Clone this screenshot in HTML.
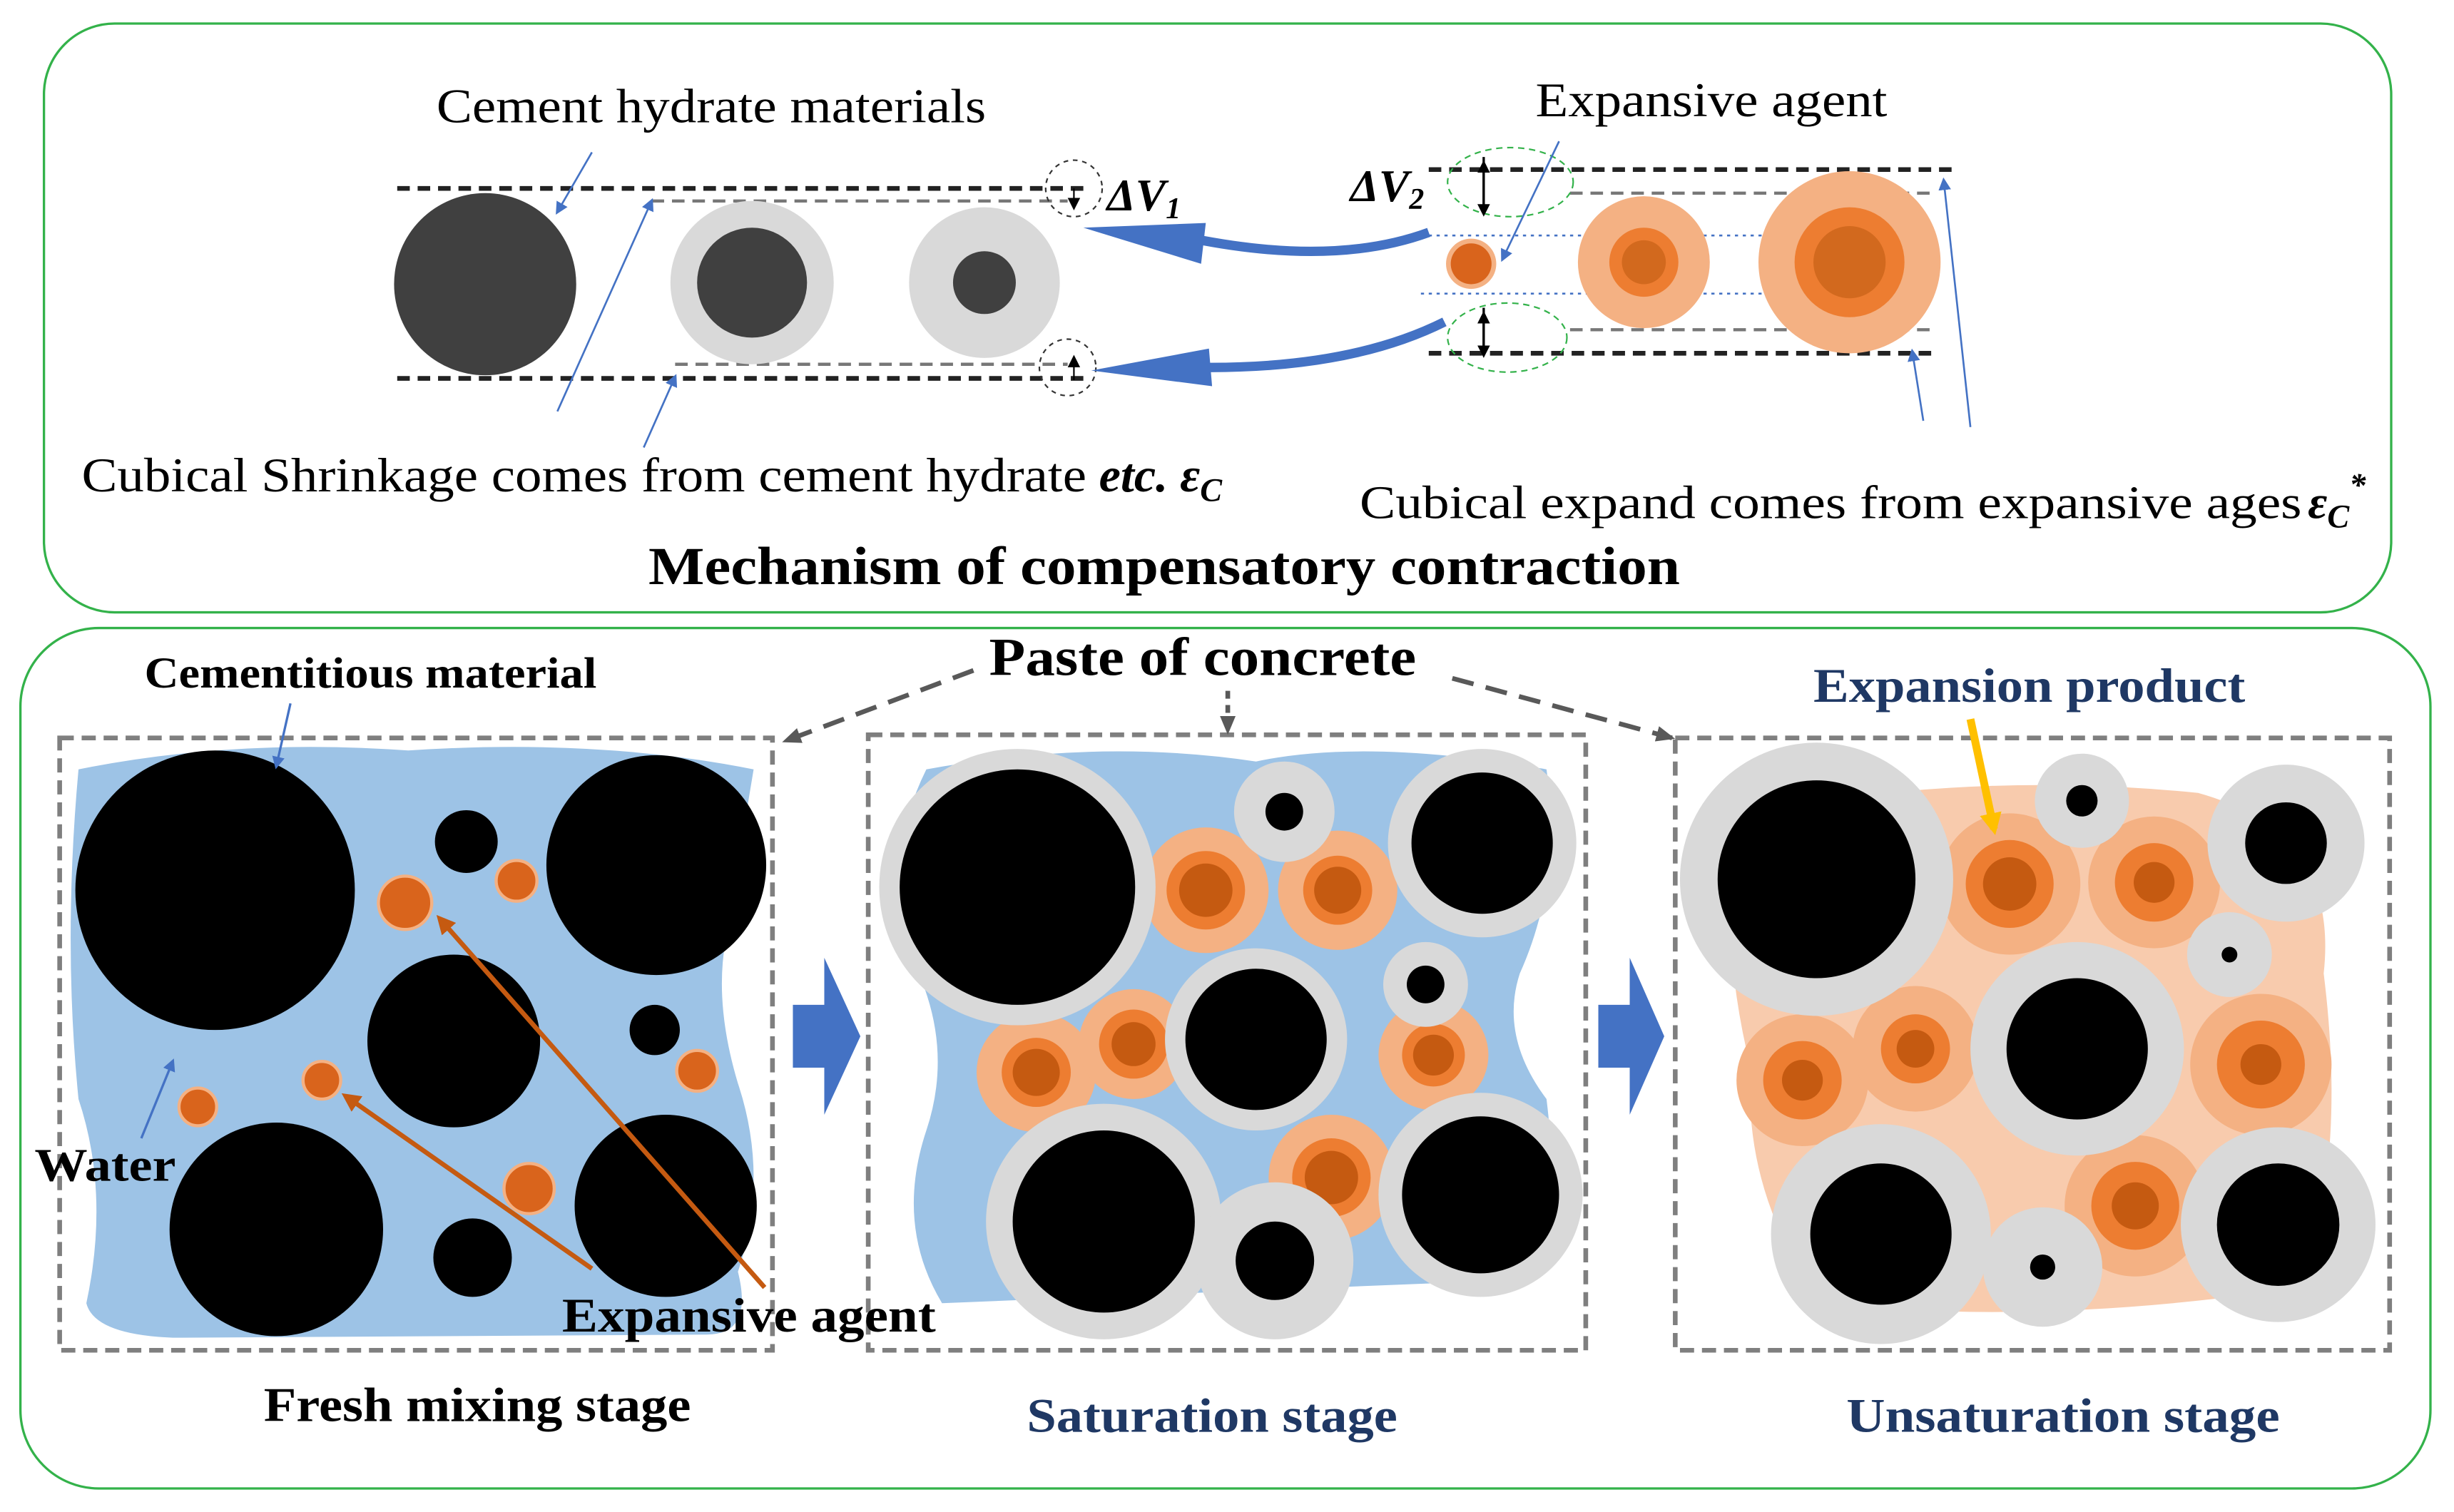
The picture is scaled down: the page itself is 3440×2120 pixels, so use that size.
<!DOCTYPE html>
<html><head><meta charset="utf-8"><style>
html,body{margin:0;padding:0;background:#fff;}
svg{display:block;}
text{font-family:"Liberation Serif",serif;}
</style></head><body>
<svg width="3440" height="2120" viewBox="0 0 1563 963" preserveAspectRatio="none" xmlns="http://www.w3.org/2000/svg">
<defs>
<marker id="ab" markerWidth="8" markerHeight="8" refX="6" refY="4" orient="auto" markerUnits="userSpaceOnUse"><path d="M0,0 L8,4 L0,8 z" fill="#4472c4"/></marker>
<marker id="ao" markerWidth="12" markerHeight="12" refX="9" refY="6" orient="auto" markerUnits="userSpaceOnUse"><path d="M0,0 L12,6 L0,12 z" fill="#c55a11"/></marker>
<marker id="ag" markerWidth="14" markerHeight="14" refX="10" refY="7" orient="auto" markerUnits="userSpaceOnUse"><path d="M0,2 L12,7 L0,12 z" fill="#595959"/></marker>
<marker id="ay" markerWidth="14" markerHeight="14" refX="10" refY="7" orient="auto" markerUnits="userSpaceOnUse"><path d="M0,0 L14,7 L0,14 z" fill="#ffc000"/></marker>
<marker id="ak" markerWidth="8" markerHeight="8" refX="6" refY="4" orient="auto" markerUnits="userSpaceOnUse"><path d="M0,0 L8,4 L0,8 z" fill="#000"/></marker>
</defs>
<rect x="28" y="15" width="1495" height="375" rx="45" fill="none" stroke="#33b24a" stroke-width="1.5"/>
<rect x="13" y="400" width="1535" height="548" rx="50" fill="none" stroke="#33b24a" stroke-width="1.5"/>

<!-- top left -->
<g stroke-dasharray="8,5">
<line x1="253" y1="120" x2="690" y2="120" stroke="#222" stroke-width="3"/>
<line x1="253" y1="241" x2="690" y2="241" stroke="#222" stroke-width="3"/>
<line x1="415" y1="128" x2="680" y2="128" stroke="#777" stroke-width="2"/>
<line x1="430" y1="232" x2="680" y2="232" stroke="#777" stroke-width="2"/>
</g>
<circle cx="309" cy="181" r="58" fill="#404040"/>
<circle cx="479" cy="180" r="52" fill="#d9d9d9"/><circle cx="479" cy="180" r="35" fill="#404040"/>
<circle cx="627" cy="180" r="48" fill="#d9d9d9"/><circle cx="627" cy="180" r="20" fill="#404040"/>
<circle cx="684" cy="120" r="18" fill="none" stroke="#333" stroke-dasharray="3,3"/>
<circle cx="680" cy="234" r="18" fill="none" stroke="#333" stroke-dasharray="3,3"/>
<line x1="684" y1="120" x2="684" y2="132" stroke="#000" marker-end="url(#ak)"/>
<line x1="684" y1="242" x2="684" y2="228" stroke="#000" marker-end="url(#ak)"/>
<text x="705" y="134" font-size="29" font-style="italic" font-weight="bold">ΔV<tspan font-size="19" dy="5">1</tspan></text>
<path d="M910,148 Q850,170 760,152" fill="none" stroke="#4472c4" stroke-width="6"/>
<path d="M690,145 L768,142 L765,168 z" fill="#4472c4"/>
<path d="M920,205 Q860,235 765,234" fill="none" stroke="#4472c4" stroke-width="6"/>
<path d="M695,236 L770,222 L772,246 z" fill="#4472c4"/>

<!-- top right -->
<g stroke-dasharray="8,5">
<line x1="910" y1="108" x2="1245" y2="108" stroke="#222" stroke-width="3"/>
<line x1="910" y1="225" x2="1235" y2="225" stroke="#222" stroke-width="3"/>
<line x1="1000" y1="123" x2="1230" y2="123" stroke="#777" stroke-width="2"/>
<line x1="1000" y1="210" x2="1230" y2="210" stroke="#777" stroke-width="2"/>
</g>
<line x1="905" y1="150" x2="1215" y2="150" stroke="#4472c4" stroke-width="1.2" stroke-dasharray="2,3"/>
<line x1="905" y1="187" x2="1215" y2="187" stroke="#4472c4" stroke-width="1.2" stroke-dasharray="2,3"/>
<circle cx="937" cy="168" r="16" fill="#f4b183"/><circle cx="937" cy="168" r="13" fill="#d9641c"/>
<circle cx="1047" cy="167" r="42" fill="#f4b183"/><circle cx="1047" cy="167" r="22" fill="#ed7d31"/><circle cx="1047" cy="167" r="14" fill="#d2691e"/>
<circle cx="1178" cy="167" r="58" fill="#f4b183"/><circle cx="1178" cy="167" r="35" fill="#ed7d31"/><circle cx="1178" cy="167" r="23" fill="#d2691e"/>
<ellipse cx="962" cy="116" rx="40" ry="22" fill="none" stroke="#33b24a" stroke-dasharray="4,3"/>
<ellipse cx="960" cy="215" rx="38" ry="22" fill="none" stroke="#33b24a" stroke-dasharray="4,3"/>
<line x1="945" y1="100" x2="945" y2="136" stroke="#000" stroke-width="1.5" marker-end="url(#ak)"/>
<line x1="945" y1="136" x2="945" y2="104" stroke="#000" stroke-width="1.5" marker-end="url(#ak)"/>
<line x1="945" y1="196" x2="945" y2="226" stroke="#000" stroke-width="1.5" marker-end="url(#ak)"/>
<line x1="945" y1="226" x2="945" y2="200" stroke="#000" stroke-width="1.5" marker-end="url(#ak)"/>
<text x="860" y="128" font-size="29" font-style="italic" font-weight="bold">ΔV<tspan font-size="19" dy="5">2</tspan></text>
<line x1="1225" y1="268" x2="1218" y2="224" stroke="#4472c4" stroke-width="1.2" marker-end="url(#ab)"/>
<line x1="1255" y1="272" x2="1238" y2="115" stroke="#4472c4" stroke-width="1.2" marker-end="url(#ab)"/>
<line x1="377" y1="97" x2="355" y2="135" stroke="#4472c4" stroke-width="1.2" marker-end="url(#ab)"/>
<line x1="993" y1="90" x2="957" y2="165" stroke="#4472c4" stroke-width="1.2" marker-end="url(#ab)"/>
<line x1="355" y1="262" x2="415" y2="128" stroke="#4472c4" stroke-width="1.2" marker-end="url(#ab)"/>
<line x1="410" y1="285" x2="430" y2="240" stroke="#4472c4" stroke-width="1.2" marker-end="url(#ab)"/>
<text x="278" y="78" font-size="31" textLength="350" lengthAdjust="spacingAndGlyphs">Cement hydrate materials</text>
<text x="978" y="74" font-size="31" textLength="224" lengthAdjust="spacingAndGlyphs">Expansive agent</text>
<text x="52" y="313" font-size="31" textLength="640" lengthAdjust="spacingAndGlyphs">Cubical Shrinkage comes from cement hydrate</text>
<text x="700" y="313" font-size="31" font-style="italic" font-weight="bold">etc. ε<tspan font-size="21" dy="6">C</tspan></text>
<text x="866" y="330" font-size="30" textLength="600" lengthAdjust="spacingAndGlyphs">Cubical expand comes from expansive ages</text>
<text x="1470" y="330" font-size="30" font-style="italic" font-weight="bold">ε<tspan font-size="21" dy="6">C</tspan><tspan font-size="21" dy="-20">*</tspan></text>
<text x="413" y="372" font-size="34" font-weight="bold" textLength="657" lengthAdjust="spacingAndGlyphs">Mechanism of compensatory contraction</text>

<!-- bottom labels -->
<rect x="38" y="470" width="454" height="390" fill="none" stroke="#7f7f7f" stroke-width="3" stroke-dasharray="9,5"/>
<rect x="553" y="468" width="457" height="392" fill="none" stroke="#7f7f7f" stroke-width="3" stroke-dasharray="9,5"/>
<rect x="1067" y="470" width="455" height="390" fill="none" stroke="#7f7f7f" stroke-width="3" stroke-dasharray="9,5"/>
<text x="630" y="430" font-size="34" font-weight="bold" textLength="272" lengthAdjust="spacingAndGlyphs">Paste of concrete</text>
<line x1="620" y1="427" x2="500" y2="472" stroke="#595959" stroke-width="3" stroke-dasharray="14,8" marker-end="url(#ag)"/>
<line x1="782" y1="440" x2="782" y2="466" stroke="#595959" stroke-width="3" stroke-dasharray="5,4" marker-end="url(#ag)"/>
<line x1="925" y1="432" x2="1065" y2="470" stroke="#595959" stroke-width="3" stroke-dasharray="14,8" marker-end="url(#ag)"/>
<path d="M505,640 L525,640 L525,610 L548,660 L525,710 L525,680 L505,680 z" fill="#4472c4"/>
<path d="M1018,640 L1038,640 L1038,610 L1060,660 L1038,710 L1038,680 L1018,680 z" fill="#4472c4"/>

<!-- panel 1 -->
<path d="M50,490 Q150,470 260,478 Q380,470 480,490 Q470,550 462,600 Q455,640 470,690 Q490,750 470,810 Q480,850 450,850 L110,852 Q60,850 55,830 Q70,760 50,700 Q40,600 50,490 z" fill="#9dc3e6"/>
<g fill="#000">
<circle cx="137" cy="567" r="89"/><circle cx="418" cy="551" r="70"/><circle cx="289" cy="663" r="55"/>
<circle cx="176" cy="783" r="68"/><circle cx="424" cy="768" r="58"/><circle cx="297" cy="536" r="20"/>
<circle cx="417" cy="656" r="16"/><circle cx="301" cy="801" r="25"/>
</g>
<g fill="#d9641c" stroke="#f4b183" stroke-width="2">
<circle cx="258" cy="575" r="17"/><circle cx="329" cy="561" r="13"/><circle cx="444" cy="682" r="13"/>
<circle cx="205" cy="688" r="12"/><circle cx="126" cy="705" r="12"/><circle cx="337" cy="757" r="16"/>
</g>
<line x1="487" y1="820" x2="280" y2="585" stroke="#c55a11" stroke-width="3" marker-end="url(#ao)"/>
<line x1="377" y1="808" x2="220" y2="698" stroke="#c55a11" stroke-width="3" marker-end="url(#ao)"/>
<line x1="90" y1="725" x2="110" y2="676" stroke="#4472c4" stroke-width="1.5" marker-end="url(#ab)"/>
<line x1="185" y1="448" x2="176" y2="488" stroke="#4472c4" stroke-width="1.5" marker-end="url(#ab)"/>
<text x="92" y="438" font-size="28" font-weight="bold" textLength="288" lengthAdjust="spacingAndGlyphs">Cementitious material</text>
<text x="22" y="752" font-size="30" font-weight="bold" textLength="90" lengthAdjust="spacingAndGlyphs">Water</text>
<text x="358" y="848" font-size="31" font-weight="bold" textLength="238" lengthAdjust="spacingAndGlyphs">Expansive agent</text>
<text x="168" y="905" font-size="31" font-weight="bold" textLength="272" lengthAdjust="spacingAndGlyphs">Fresh mixing stage</text>

<!-- panel 2 -->
<path d="M590,490 Q700,470 800,485 Q870,470 985,490 Q995,560 968,620 Q955,660 985,700 Q995,780 970,815 L600,830 Q570,780 590,720 Q610,660 575,600 Q565,540 590,490 z" fill="#9dc3e6"/>
<g fill="#f4b183">
<circle cx="768" cy="567" r="40"/><circle cx="852" cy="567" r="38"/><circle cx="660" cy="683" r="38"/>
<circle cx="722" cy="665" r="35"/><circle cx="913" cy="672" r="35"/><circle cx="848" cy="750" r="40"/>
</g>
<g fill="#ed7d31">
<circle cx="768" cy="567" r="25"/><circle cx="852" cy="567" r="22"/><circle cx="660" cy="683" r="22"/>
<circle cx="722" cy="665" r="22"/><circle cx="913" cy="672" r="20"/><circle cx="848" cy="750" r="25"/>
</g>
<g fill="#c55a11">
<circle cx="768" cy="567" r="17"/><circle cx="852" cy="567" r="15"/><circle cx="660" cy="683" r="15"/>
<circle cx="722" cy="665" r="14"/><circle cx="913" cy="672" r="13"/><circle cx="848" cy="750" r="17"/>
</g>
<g fill="#d9d9d9">
<circle cx="648" cy="565" r="88"/><circle cx="944" cy="537" r="60"/><circle cx="818" cy="517" r="32"/>
<circle cx="908" cy="627" r="27"/><circle cx="800" cy="662" r="58"/><circle cx="703" cy="778" r="75"/>
<circle cx="943" cy="761" r="65"/><circle cx="812" cy="803" r="50"/>
</g>
<g fill="#000">
<circle cx="648" cy="565" r="75"/><circle cx="944" cy="537" r="45"/><circle cx="818" cy="517" r="12"/>
<circle cx="908" cy="627" r="12"/><circle cx="800" cy="662" r="45"/><circle cx="703" cy="778" r="58"/>
<circle cx="943" cy="761" r="50"/><circle cx="812" cy="803" r="25"/>
</g>
<text x="654" y="912" font-size="31" font-weight="bold" fill="#1f3864" textLength="236" lengthAdjust="spacingAndGlyphs">Saturation stage</text>

<!-- panel 3 -->
<path d="M1105,520 Q1250,490 1400,505 Q1490,530 1480,620 Q1495,740 1465,820 Q1300,845 1160,830 Q1110,760 1115,680 Q1095,600 1105,520 z" fill="#f8cbad"/>
<g fill="#f4b183">
<circle cx="1280" cy="563" r="45"/><circle cx="1372" cy="562" r="42"/><circle cx="1148" cy="688" r="42"/>
<circle cx="1220" cy="668" r="40"/><circle cx="1440" cy="678" r="45"/><circle cx="1360" cy="768" r="45"/>
</g>
<g fill="#ed7d31">
<circle cx="1280" cy="563" r="28"/><circle cx="1372" cy="562" r="25"/><circle cx="1148" cy="688" r="25"/>
<circle cx="1220" cy="668" r="22"/><circle cx="1440" cy="678" r="28"/><circle cx="1360" cy="768" r="28"/>
</g>
<g fill="#c55a11">
<circle cx="1280" cy="563" r="17"/><circle cx="1372" cy="562" r="13"/><circle cx="1148" cy="688" r="13"/>
<circle cx="1220" cy="668" r="12"/><circle cx="1440" cy="678" r="13"/><circle cx="1360" cy="768" r="15"/>
</g>
<g fill="#d9d9d9">
<circle cx="1157" cy="560" r="87"/><circle cx="1456" cy="537" r="50"/><circle cx="1326" cy="510" r="30"/>
<circle cx="1420" cy="608" r="27"/><circle cx="1323" cy="668" r="68"/><circle cx="1198" cy="786" r="70"/>
<circle cx="1451" cy="780" r="62"/><circle cx="1301" cy="807" r="38"/>
</g>
<g fill="#000">
<circle cx="1157" cy="560" r="63"/><circle cx="1456" cy="537" r="26"/><circle cx="1326" cy="510" r="10"/>
<circle cx="1420" cy="608" r="5"/><circle cx="1323" cy="668" r="45"/><circle cx="1198" cy="786" r="45"/>
<circle cx="1451" cy="780" r="39"/><circle cx="1301" cy="807" r="8"/>
</g>
<line x1="1255" y1="458" x2="1270" y2="528" stroke="#ffc000" stroke-width="5" marker-end="url(#ay)"/>
<text x="1155" y="447" font-size="31" font-weight="bold" fill="#1f3864" textLength="275" lengthAdjust="spacingAndGlyphs">Expansion product</text>
<text x="1176" y="912" font-size="31" font-weight="bold" fill="#1f3864" textLength="276" lengthAdjust="spacingAndGlyphs">Unsaturation stage</text>
</svg>
</body></html>
